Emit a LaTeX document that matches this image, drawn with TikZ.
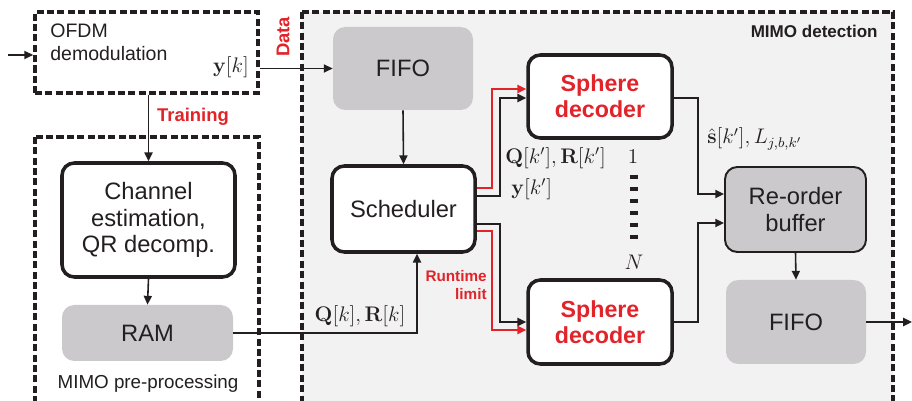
\documentclass[tikz,border=0pt]{standalone}
\usepackage[no-math]{fontspec}
\setmainfont{Liberation Sans}
\usetikzlibrary{arrows.meta,calc}
\definecolor{sdred}{RGB}{226,35,41}
\definecolor{boxgray}{RGB}{203,201,203}
\definecolor{regiongray}{RGB}{242,242,242}
\definecolor{ink}{RGB}{35,31,32}
\begin{document}
\begin{tikzpicture}[x=0.02cm,y=-0.02cm,
  dashbox/.style={draw=ink, line width=2.1pt, dash pattern=on 4pt off 1.9pt},
  wbox/.style={draw=ink, fill=white, line width=2pt, rounded corners=7pt, align=center,
    inner sep=0pt, font=\fontsize{13.5}{15}\selectfont, text=ink},
  gbox/.style={fill=boxgray, rounded corners=7pt, align=center, inner sep=0pt,
    font=\fontsize{13.5}{15}\selectfont, text=ink},
  sdbox/.style={wbox, text=sdred, font=\bfseries\fontsize{13.2}{15}\selectfont},
  conn/.style={draw=ink, line width=0.9pt, -{Triangle[length=5pt,width=4.6pt]}},
  rconn/.style={conn, draw=sdred, -{Triangle[length=5pt,width=4.6pt,color=sdred]}},
  mlabel/.style={inner sep=0pt, font=\fontsize{12}{14}\selectfont, text=ink},
  redlbl/.style={inner sep=0pt, text=sdred, font=\bfseries\fontsize{10.5}{12}\selectfont},
  plainlbl/.style={inner sep=0pt, text=ink, font=\fontsize{10.7}{12.5}\selectfont}]
\useasboundingbox (0,0) rectangle (912,401);
\clip (0,0) rectangle (912,401);

% regions
\draw[dashbox, fill=regiongray] (302,12) rectangle (893,430);
\draw[dashbox] (35,137) rectangle (259,430);

% nodes
\node[dashbox, minimum width=223*0.02cm, minimum height=81*0.02cm, inner sep=0pt] (ofdm) at (146.5,52.5) {};
\node[plainlbl, anchor=north west, align=left, font=\fontsize{11.1}{12.6}\selectfont] (ofdmtxt) at (50,24) {OFDM\\demodulation};
\node[mlabel] (yk) at (231,67) {$\mathbf{y}[k]$};
\node[redlbl, rotate=90] (datalbl) at (283,37) {Data};
\node[redlbl] (trainlbl) at (193,117) {Training};

\node[wbox, minimum width=173*0.02cm, minimum height=114*0.02cm] (chan) at (148.5,220) {Channel\\estimation,\\QR decomp.};
\node[gbox, minimum width=171*0.02cm, minimum height=56*0.02cm] (ram) at (147.5,333) {RAM};
\node[plainlbl] (prelbl) at (148,384) {MIMO pre-processing};

\node[gbox, minimum width=140*0.02cm, minimum height=83*0.02cm] (fifoa) at (403,68.5) {FIFO};
\node[wbox, minimum width=143*0.02cm, minimum height=86*0.02cm] (sched) at (403.5,209) {Scheduler};
\node[sdbox, minimum width=144*0.02cm, minimum height=83*0.02cm] (sda) at (600,96.5) {Sphere\\decoder};
\node[sdbox, minimum width=144*0.02cm, minimum height=84*0.02cm] (sdb) at (600,322) {Sphere\\decoder};
\node[gbox, draw=ink, line width=1.1pt, minimum width=141*0.02cm, minimum height=85*0.02cm] (reord) at (795.5,209.5) {Re-order\\buffer};
\node[gbox, minimum width=140*0.02cm, minimum height=84*0.02cm] (fifob) at (796,322) {FIFO};

\node[inner sep=0pt, anchor=east, text=ink, font=\bfseries\fontsize{9.7}{11}\selectfont] (mimolbl) at (878,31) {MIMO detection};

% labels
\node[mlabel] (qrk) at (360,316) {$\mathbf{Q}[k],\mathbf{R}[k]$};
\node[mlabel, anchor=west] (qrkp) at (505,158) {$\mathbf{Q}[k'],\mathbf{R}[k']$};
\node[mlabel, anchor=west] (ykp) at (511,189) {$\mathbf{y}[k']$};
\node[mlabel] (one) at (633,157) {$1$};
\node[mlabel] (nn) at (634,262) {$N$};
\node[mlabel, anchor=west] (shat) at (707,139) {$\hat{\mathbf{s}}[k'],L_{j,b,k'}$};
\node[redlbl, align=right, anchor=east, font=\bfseries\fontsize{8.7}{9.8}\selectfont] (rtl) at (487,285) {Runtime\\limit};

% dotted column
\coordinate (dtop) at (634,175);
\coordinate (dbot) at (634,243);
\draw[ink, line width=4.2pt, dash pattern=on 2.4pt off 4.4pt] (dtop) -- (dbot);

% connectors
\coordinate (in) at (8,55);
\draw[conn] (in) -- (in -| ofdm.west);
\draw[conn] (ofdm.east |- fifoa.west) -- (fifoa.west);
\draw[conn] (ofdm.south -| chan.north) -- (chan.north);
\draw[conn] (chan.south) -- (ram.north);
\draw[conn] (ram.east) -| ($(sched.south)+(13.5,0)$);
\draw[conn] (fifoa.south) -- (sched.north);

\draw[rconn] ($(sched.east)+(0,-21)$) -| (492,89) -- (sda.west |- 0,89);
\draw[conn] ($(sched.east)+(0,-13)$) -| (500,98) -- (sda.west |- 0,98);
\draw[conn] ($(sched.east)+(0,15)$) -| (500,322) -- (sdb.west |- 0,322);
\draw[rconn] ($(sched.east)+(0,22)$) -| (492,330) -- (sdb.west |- 0,330);

\draw[conn] (sda.east |- 0,98) -| (698,194) -- (reord.west |- 0,194);
\draw[conn] (sdb.east) -| (698,223) -- (reord.west |- 0,223);
\draw[conn] (reord.south) -- (fifob.north);
\coordinate (out) at (912,322);
\draw[conn] (fifob.east) -- (out);
\end{tikzpicture}
\end{document}
